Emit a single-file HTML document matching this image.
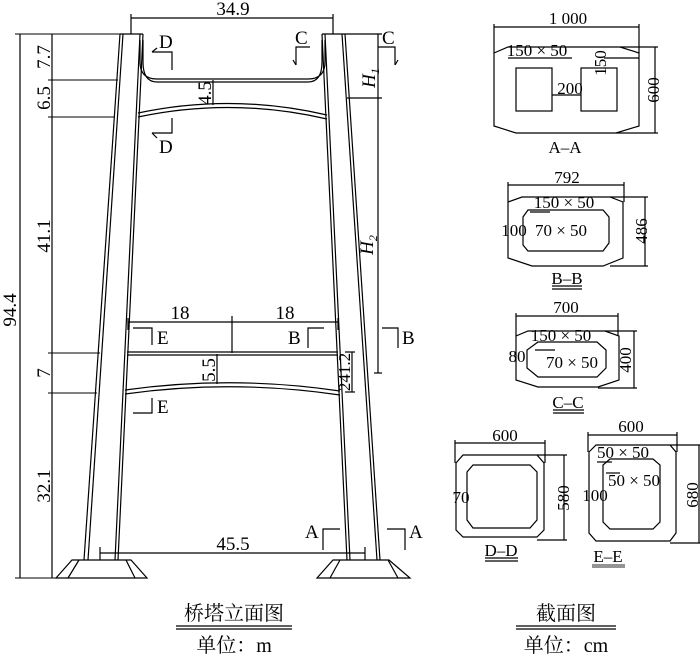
<!DOCTYPE html>
<html><head><meta charset="utf-8"><style>
html,body{margin:0;padding:0;background:#fff}
svg{display:block}
text{font-family:"Liberation Serif","Noto Serif CJK SC",serif;fill:#000}
</style></head><body>
<svg width="700" height="655" viewBox="0 0 700 655" xmlns="http://www.w3.org/2000/svg">
<g fill="none" stroke="#000" stroke-width="1.2">
<line x1="120" y1="34" x2="84" y2="560"/><line x1="123" y1="34" x2="88" y2="560"/>
<line x1="140" y1="34" x2="115" y2="560"/><line x1="143" y1="34" x2="118" y2="560"/>
<line x1="120" y1="34" x2="143" y2="34"/>
<line x1="322" y1="34" x2="347" y2="560"/><line x1="325" y1="34" x2="350" y2="560"/>
<line x1="342" y1="34" x2="377" y2="560"/><line x1="345" y1="34" x2="380" y2="560"/>
<line x1="322" y1="34" x2="345" y2="34"/>
<polygon points="56,578 147,578 131,560 72,560"/><line x1="68" y1="578" x2="79" y2="560"/><line x1="135" y1="578" x2="126" y2="560"/>
<polygon points="317,578 410,578 389,560 333,560"/><line x1="330" y1="578" x2="340" y2="560"/><line x1="398" y1="578" x2="388" y2="560"/>
<path d="M140,40 L140,62 Q140,79 157,79 L308,79 Q325,79 325,62 L325,40"/>
<path d="M143,40 L143,62 Q143,82 157,82 L308,82 Q322,82 322,62 L322,40"/>
<path d="M138,113 Q232,93 327,115"/><path d="M138,117 Q232,97 327,119"/>
<line x1="127" y1="352" x2="338" y2="352"/><line x1="127" y1="355" x2="338" y2="355"/>
<path d="M125,390 Q232,375 340,391"/><path d="M125,394 Q232,379 340,395"/>
<line x1="20" y1="34" x2="20" y2="578"/><line x1="52" y1="34" x2="52" y2="578"/>
<line x1="15" y1="34" x2="120" y2="34" stroke-width="1"/>
<line x1="48" y1="80" x2="118" y2="80" stroke-width="1"/>
<line x1="48" y1="117" x2="115" y2="117" stroke-width="1"/>
<line x1="48" y1="353" x2="100" y2="353" stroke-width="1"/>
<line x1="48" y1="393" x2="97" y2="393" stroke-width="1"/>
<line x1="15" y1="578" x2="56" y2="578" stroke-width="1"/>
<line x1="131" y1="18" x2="333" y2="18"/><line x1="131" y1="14" x2="131" y2="34"/><line x1="333" y1="14" x2="333" y2="34"/>
<line x1="345" y1="34" x2="382" y2="34"/><line x1="347" y1="98" x2="382" y2="98"/>
<line x1="378" y1="34" x2="378" y2="373"/><line x1="374" y1="373" x2="382" y2="373"/>
<line x1="128" y1="322" x2="338" y2="322"/><line x1="232" y1="316" x2="232" y2="353"/>
<line x1="128" y1="318" x2="128" y2="330"/><line x1="338" y1="318" x2="338" y2="330"/>
<line x1="213" y1="80" x2="213" y2="105"/><line x1="217" y1="354" x2="217" y2="384"/>
<line x1="352" y1="352" x2="352" y2="392"/><line x1="345" y1="352" x2="355" y2="352"/><line x1="345" y1="392" x2="355" y2="392"/>
<line x1="100" y1="553" x2="365" y2="553"/><line x1="100" y1="547" x2="100" y2="560"/><line x1="365" y1="547" x2="365" y2="560"/>
<path d="M152,52 L158,52 L172,52 L172,70"/><line x1="152" y1="52" x2="157" y2="48"/>
<path d="M152,133 L172,133 L172,118"/><line x1="152" y1="133" x2="157" y2="138"/>
<path d="M310,47 L296,47 L296,65"/><line x1="296" y1="65" x2="293" y2="60"/>
<path d="M378,47 L395,47 L395,65"/><line x1="395" y1="65" x2="398" y2="60"/>
<path d="M133,328 L152,328 L152,345"/><path d="M133,413 L152,413 L152,398"/>
<path d="M324,328 L308,328 L308,348"/><path d="M382,328 L398,328 L398,348"/>
<path d="M340,529 L323,529 L323,550"/><path d="M387,529 L405,529 L405,550"/>
<line x1="176" y1="626" x2="292" y2="626"/><line x1="176" y1="629" x2="292" y2="629"/>
<line x1="516" y1="626" x2="616" y2="626"/><line x1="516" y1="629" x2="616" y2="629"/>
<polygon points="494,53 508,47 620,47 639,53 639,126 616,133 516,133 494,126"/>
<rect x="516" y="68" width="36" height="43"/><rect x="581" y="68" width="36" height="43"/>
<line x1="494" y1="27" x2="639" y2="27"/><line x1="494" y1="24" x2="494" y2="53"/><line x1="639" y1="24" x2="639" y2="53"/>
<line x1="620" y1="47" x2="658" y2="47"/><line x1="616" y1="133" x2="658" y2="133"/><line x1="655" y1="47" x2="655" y2="133"/>
<line x1="552" y1="95" x2="581" y2="95"/><line x1="604" y1="58" x2="639" y2="58"/>
<line x1="508" y1="58" x2="572" y2="58"/>
<polygon points="508,202 522,197 610,197 623,202 623,258 603,266 532,266 508,258"/>
<polygon points="528,210 603,210 609,217 609,243 603,251 528,251 523,245 523,217"/>
<line x1="508" y1="185" x2="624" y2="185"/><line x1="508" y1="182" x2="508" y2="202"/><line x1="624" y1="182" x2="624" y2="202"/>
<line x1="610" y1="197" x2="648" y2="197"/><line x1="610" y1="266" x2="648" y2="266"/><line x1="645" y1="197" x2="645" y2="266"/>
<line x1="530" y1="212" x2="550" y2="212"/>
<line x1="552" y1="286" x2="582" y2="286"/><line x1="552" y1="289" x2="582" y2="289"/>
<polygon points="516,336 528,331 605,331 619,336 619,380 598,387 538,387 516,380"/>
<polygon points="538,342 597,342 606,350 606,368 597,377 538,377 527,368 527,350"/>
<line x1="516" y1="316" x2="618" y2="316"/><line x1="516" y1="313" x2="516" y2="336"/><line x1="618" y1="313" x2="618" y2="336"/>
<line x1="605" y1="331" x2="637" y2="331"/><line x1="598" y1="388" x2="637" y2="388"/><line x1="634" y1="331" x2="634" y2="388"/>
<line x1="535" y1="350" x2="555" y2="350"/>
<line x1="553" y1="410" x2="584" y2="410"/><line x1="553" y1="413" x2="584" y2="413"/>
<polygon points="456,463 463,455 537,455 544,463 544,530 537,537 463,537 456,530"/>
<polygon points="473,465 530,465 537,472 537,520 530,528 473,528 467,520 467,472"/>
<line x1="455" y1="443" x2="545" y2="443"/><line x1="455" y1="440" x2="455" y2="463"/><line x1="545" y1="440" x2="545" y2="463"/>
<line x1="537" y1="455" x2="567" y2="455"/><line x1="537" y1="540" x2="567" y2="540"/><line x1="564" y1="455" x2="564" y2="540"/>
<line x1="485" y1="558" x2="518" y2="558"/><line x1="485" y1="561" x2="518" y2="561"/>
<polygon points="589,452 596,445 670,445 676,452 676,533 670,541 596,541 589,533"/>
<polygon points="610,459 653,459 660,465 660,522 653,529 610,529 603,522 603,465"/>
<line x1="588" y1="435" x2="677" y2="435"/><line x1="588" y1="432" x2="588" y2="452"/><line x1="677" y1="432" x2="677" y2="452"/>
<line x1="670" y1="445" x2="700" y2="445"/><line x1="670" y1="543" x2="700" y2="543"/><line x1="699" y1="445" x2="699" y2="543"/>
<line x1="597" y1="462" x2="612" y2="462"/><line x1="606" y1="473" x2="620" y2="473"/>
<line x1="592" y1="565" x2="625" y2="565" stroke="#555"/><line x1="592" y1="567" x2="625" y2="567" stroke="#555"/>
</g>
<g font-size="19">
<text x="233" y="15" text-anchor="middle">34.9</text>
<text x="180" y="319" text-anchor="middle">18</text>
<text x="285" y="319" text-anchor="middle">18</text>
<text x="233" y="550" text-anchor="middle">45.5</text>
<text x="159" y="48">D</text><text x="159" y="153">D</text>
<text x="295" y="44">C</text><text x="382" y="44">C</text>
<text x="157" y="344">E</text><text x="157" y="413">E</text>
<text x="288" y="344">B</text><text x="402" y="344">B</text>
<text x="305" y="538">A</text><text x="409" y="538">A</text>
<g text-anchor="middle">
<text transform="translate(50,57) rotate(-90)">7.7</text>
<text transform="translate(50,98) rotate(-90)">6.5</text>
<text transform="translate(50,236) rotate(-90)">41.1</text>
<text transform="translate(50,373) rotate(-90)">7</text>
<text transform="translate(50,486) rotate(-90)">32.1</text>
<text transform="translate(16,310) rotate(-90)">94.4</text>
<text transform="translate(211,93) rotate(-90)">4.5</text>
<text transform="translate(215,370) rotate(-90)">5.5</text>
<text transform="translate(350,372) rotate(-90)" font-size="17">241.2</text>
<text transform="translate(375,78) rotate(-90)" font-style="italic">H<tspan font-size="12" dy="4">1</tspan></text>
<text transform="translate(373,245) rotate(-90)" font-style="italic">H<tspan font-size="12" dy="4">2</tspan></text>
</g>
</g>
<g font-size="17" text-anchor="middle">
<text x="568" y="24">1 000</text>
<text x="537" y="56">150 × 50</text>
<text x="570" y="94">200</text>
<text transform="translate(606,63) rotate(-90)">150</text>
<text transform="translate(659,90) rotate(-90)">600</text>
<text x="565" y="153">A–A</text>
<text x="567" y="183">792</text>
<text x="564" y="208">150 × 50</text>
<text x="561" y="236">70 × 50</text>
<text x="514" y="236">100</text>
<text transform="translate(647,231) rotate(-90)">486</text>
<text x="567" y="284">B–B</text>
<text x="566" y="313">700</text>
<text x="561" y="341">150 × 50</text>
<text x="517" y="362">80</text>
<text x="572" y="368">70 × 50</text>
<text transform="translate(631,360) rotate(-90)">400</text>
<text x="568" y="408">C–C</text>
<text x="505" y="441">600</text>
<text x="461" y="503">70</text>
<text transform="translate(569,498) rotate(-90)">580</text>
<text x="501" y="556">D–D</text>
<text x="631" y="432">600</text>
<text x="623" y="458">50 × 50</text>
<text x="634" y="486">50 × 50</text>
<text x="595" y="501">100</text>
<text transform="translate(698,495) rotate(-90)">680</text>
<text x="608" y="562">E–E</text>
</g>
<g font-size="20" text-anchor="middle">
<text x="234" y="620">桥塔立面图</text>
<text x="234" y="652">单位：m</text>
<text x="566" y="620">截面图</text>
<text x="566" y="652">单位：cm</text>
</g>
</svg>
</body></html>
